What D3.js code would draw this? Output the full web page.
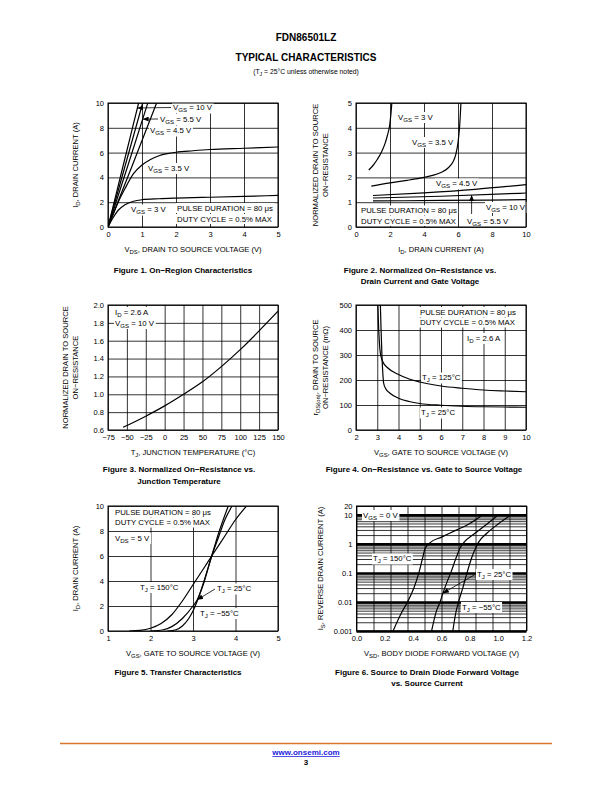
<!DOCTYPE html>
<html><head><meta charset="utf-8">
<script src="https://cdn.jsdelivr.net/npm/d3@7"></script>
<style>body{margin:0;background:#fff}</style>
</head><body><script>
// ================= DATA =================
// Figure 1: On-Region Characteristics  (x: VDS [V], y: ID [A])
const fig1XTicks=[0,1,2,3,4,5];
const fig1YTicks=[0,2,4,6,8,10];
const fig1Vgs10=[[0,0],[0.45,5],[0.9,10]];
const fig1Vgs6=[[0,0],[0.51,5],[1.02,10]];
const fig1Vgs5_5=[[0,0],[0.59,5],[1.17,10]];
const fig1Vgs4_5=[[0,0],[0.72,5],[1.43,10]];
const fig1Vgs3_5=[[0,0],[0.15,1.0],[0.3,2.0],[0.5,3.1],[0.75,4.3],[1,5.0],[1.25,5.45],[1.5,5.75],[1.75,5.92],[2,6.03],[2.5,6.15],[3,6.25],[4,6.35],[5,6.45]];
const fig1Vgs3=[[0,0],[0.15,0.75],[0.3,1.35],[0.5,1.8],[0.75,2.08],[1,2.2],[1.5,2.28],[2,2.33],[3,2.4],[4,2.47],[5,2.55]];

// Figure 2: Normalized On-Resistance vs Drain Current (x: ID [A], y: normalized RDS(on))
const fig2XTicks=[0,2,4,6,8,10];
const fig2YTicks=[0,1,2,3,4,5];
const fig2Vgs3=[[0.75,2.3],[1.0,2.48],[1.25,2.72],[1.5,3.02],[1.7,3.35],[1.85,3.7],[1.98,4.1],[2.06,4.6],[2.12,5.1]];
const fig2Vgs3_5=[[0.9,1.65],[2,1.78],[3,1.88],[4,2.0],[4.5,2.08],[5,2.2],[5.4,2.37],[5.7,2.62],[5.88,2.95],[6.0,3.4],[6.1,4.1],[6.18,5.1]];
const fig2Vgs4_5=[[1,1.27],[4,1.38],[7,1.52],[10,1.71]];
const fig2Vgs5_5=[[1,1.17],[5,1.24],[10,1.37]];
const fig2Vgs10=[[1,1.05],[5,1.07],[10,1.1]];

// Figure 3: Normalized On-Resistance vs Junction Temperature (x: TJ [°C])
const fig3XTicks=[-75,-50,-25,0,25,50,75,100,125,150];
const fig3YTicks=[0.6,0.8,1.0,1.2,1.4,1.6,1.8,2.0];
const fig3Curve=[[-55,0.63],[-25,0.755],[0,0.87],[25,1.0],[50,1.14],[75,1.31],[100,1.5],[125,1.71],[150,1.93]];

// Figure 4: On-Resistance vs Gate to Source Voltage (x: VGS [V], y: rDS(on) [mΩ])
const fig4XTicks=[2,3,4,5,6,7,8,9,10];
const fig4YTicks=[0,100,200,300,400,500];
const fig4Tj125=[[3.02,520],[3.06,420],[3.1,350],[3.15,305],[3.25,275],[3.5,248],[4,222],[4.5,204],[5,192],[6,176],[7,167],[8,160],[9,156],[10,153]];
const fig4Tj25=[[3.14,520],[3.18,400],[3.22,300],[3.26,230],[3.3,188],[3.4,165],[3.6,147],[4,127],[4.5,114],[5,106],[6,99],[7,95],[8,93],[9,92],[10,91]];

// Figure 5: Transfer Characteristics (x: VGS [V], y: ID [A])
const fig5XTicks=[1,2,3,4,5];
const fig5YTicks=[0,2,4,6,8,10];
const fig5Tj150=[[1.5,0],[1.75,0.05],[2,0.22],[2.25,0.6],[2.5,1.3],[2.75,2.4],[3,3.7],[3.25,5.0],[3.44,6.0],[3.75,7.6],[4,8.9],[4.26,10]];
const fig5Tj25=[[2.0,0],[2.3,0.1],[2.5,0.35],[2.75,1.0],[3.0,2.0],[3.1,2.5],[3.25,3.8],[3.44,6.0],[3.6,7.5],[3.75,8.9],[3.92,10]];
const fig5TjM55=[[2.4,0],[2.6,0.1],[2.75,0.4],[2.9,1.0],[3.0,1.6],[3.1,2.4],[3.25,3.9],[3.44,6.0],[3.6,7.8],[3.83,10]];

// Figure 6: Source to Drain Diode Forward Voltage (x: VSD [V], y: IS [A], log)
const fig6XTicks=[0,0.2,0.4,0.6,0.8,1.0,1.2];
const fig6YTicks=[0.001,0.01,0.1,1,10,20];
const fig6Decades=[0.001,0.01,0.1,1,10];
const fig6Tj150=[[0.258,0.001],[0.315,0.004],[0.36,0.01],[0.405,0.03],[0.44,0.1],[0.465,0.3],[0.485,0.7],[0.52,1.1],[0.6,1.7],[0.7,2.9],[0.8,5.0],[0.88,9.0]];
const fig6Tj25=[[0.53,0.001],[0.565,0.005],[0.59,0.01],[0.61,0.02],[0.64,0.05],[0.665,0.1],[0.7,0.3],[0.73,0.7],[0.76,1.15],[0.82,2.0],[0.9,4.0],[0.99,9.0]];
const fig6TjM55=[[0.68,0.001],[0.7,0.004],[0.72,0.01],[0.75,0.03],[0.78,0.1],[0.81,0.3],[0.84,0.7],[0.86,1.1],[0.92,2.3],[1.0,4.8],[1.08,9.0]];

// ================= RENDER =================
const FONT='"Liberation Sans", Arial, Helvetica, sans-serif';
const LBL=7.8, TICK=7.5, TITLE=7.6;
const svg=d3.select("body").append("svg").attr("width",612).attr("height",792)
  .attr("font-family",FONT);
const defs=svg.append("defs");
defs.append("marker").attr("id","arr").attr("markerUnits","userSpaceOnUse")
  .attr("markerWidth",6).attr("markerHeight",5).attr("refX",6).attr("refY",2.5).attr("orient","auto")
  .append("path").attr("d","M0,0L6,2.5L0,5z").attr("fill","#000");

function rich(sel,str,subSize){
  const parts=str.split(/(_\{[^}]*\})/).filter(s=>s.length);
  let shifted=false;
  parts.forEach(p=>{
    if(p.startsWith("_{")){
      sel.append("tspan").attr("font-size",subSize).attr("dy",2).text(p.slice(2,-1));
      shifted=true;
    }else{
      const t=sel.append("tspan").text(p);
      if(shifted){t.attr("dy",-2);shifted=false;}
    }
  });
  return sel;
}
function txt(parent,str,x,y,o={}){
  const size=o.size||LBL;
  const t=parent.append("text").attr("x",x).attr("y",y).attr("font-size",size)
    .attr("text-anchor",o.anchor||"start").attr("font-weight",o.weight||"normal")
    .attr("fill",o.fill||"#000");
  if(o.rotate) t.attr("transform",`rotate(${o.rotate},${x},${y})`);
  rich(t,str,size*0.78);
  return t;
}
function xAt(series,yv){
  for(let i=0;i<series.length-1;i++){
    const [x0,y0]=series[i],[x1,y1]=series[i+1];
    if((yv-y0)*(yv-y1)<=0 && y1!==y0) return x0+(yv-y0)/(y1-y0)*(x1-x0);
  }
  return series[series.length-1][0];
}
function yAt(series,xv){
  for(let i=0;i<series.length-1;i++){
    const [x0,y0]=series[i],[x1,y1]=series[i+1];
    if((xv-x0)*(xv-x1)<=0 && x1!==x0) return y0+(xv-x0)/(x1-x0)*(y1-y0);
  }
  return series[series.length-1][1];
}

let clipN=0;
function chart(c){
  const x=c.x,y=c.y;
  const [xl,xr]=x.range(),[yb,yt]=y.range();
  const g=svg.append("g");
  const gGrid=g.append("g"),gBg=g.append("g"),gCurve=g.append("g"),gText=g.append("g"),gFrame=g.append("g");
  const id="clip"+(clipN++);
  defs.append("clipPath").attr("id",id).append("rect")
    .attr("x",xl).attr("y",yt).attr("width",xr-xl).attr("height",yb-yt);
  const gx=gGrid.append("g").attr("transform",`translate(0,${yb})`)
    .call(d3.axisBottom(x).tickValues(c.xGrid).tickSize(-(yb-yt)).tickFormat(""));
  gx.select(".domain").remove();
  gx.selectAll("line").attr("stroke","#000").attr("stroke-width",0.8);
  const gy=gGrid.append("g").attr("transform",`translate(${xl},0)`)
    .call(d3.axisLeft(y).tickValues(c.yGrid).tickSize(-(xr-xl)).tickFormat(""));
  gy.select(".domain").remove();
  gy.selectAll("line").attr("stroke","#000").attr("stroke-width",d=>c.yGridW?c.yGridW(d):0.8);
  const lx=g.append("g").attr("transform",`translate(0,${yb})`)
    .call(d3.axisBottom(x).tickValues(c.xTicks).tickSize(0).tickPadding(5).tickFormat(c.xFmt));
  lx.select(".domain").remove();
  lx.attr("font-size",TICK).attr("font-family",FONT);
  const ly=g.append("g").attr("transform",`translate(${xl},0)`)
    .call(d3.axisLeft(y).tickValues(c.yTicks).tickSize(0).tickPadding(4).tickFormat(c.yFmt));
  ly.select(".domain").remove();
  ly.attr("font-size",TICK).attr("font-family",FONT);
  const cx=(xl+xr)/2, cy=(yb+yt)/2;
  txt(g,c.xTitle,cx,yb+25,{anchor:"middle",size:TITLE});
  c.yTitle.forEach((s,i)=>txt(g,s,c.yTitleX[i]+2.7,cy,{anchor:"middle",rotate:-90,size:TITLE}));
  const line=d3.line().x(d=>x(d[0])).y(d=>y(d[1])).curve(d3.curveMonotoneX);
  gCurve.attr("clip-path",`url(#${id})`).selectAll("path").data(c.series).join("path")
    .attr("d",line).attr("fill","none").attr("stroke","#000").attr("stroke-width",1.2);
  (c.labels||[]).forEach(L=>{
    const t=txt(gText,L.t,L.x,L.y,{anchor:L.anchor});
    const b=t.node().getBBox();
    gBg.append("rect").attr("x",b.x-1).attr("y",b.y-0.5).attr("width",b.width+2).attr("height",b.height+1).attr("fill","#fff");
  });
  (c.arrows||[]).forEach(A=>{
    gText.append("line").attr("x1",A.from[0]).attr("y1",A.from[1]).attr("x2",A.to[0]).attr("y2",A.to[1])
      .attr("stroke","#000").attr("stroke-width",0.8).attr("marker-end","url(#arr)");
  });
  gFrame.append("rect").attr("x",xl).attr("y",yt).attr("width",xr-xl).attr("height",yb-yt)
    .attr("fill","none").attr("stroke","#000").attr("stroke-width",1);
}

// ---- Header ----
txt(svg,"FDN86501LZ",306,41,{anchor:"middle",weight:"bold",size:10});
txt(svg,"TYPICAL CHARACTERISTICS",306,61,{anchor:"middle",weight:"bold",size:10});
txt(svg,"(T_{J} = 25°C unless otherwise noted)",306,73.5,{anchor:"middle",size:6.8});

// ---- Figure 1 ----
{
  const x=d3.scaleLinear([0,5],[108,278]), y=d3.scaleLinear([0,10],[227,103]);
  chart({x,y,xGrid:fig1XTicks,yGrid:fig1YTicks,xTicks:fig1XTicks,yTicks:fig1YTicks,
    xFmt:d3.format("d"),yFmt:d3.format("d"),
    xTitle:"V_{DS}, DRAIN TO SOURCE VOLTAGE (V)",yTitle:["I_{D}, DRAIN CURRENT (A)"],yTitleX:[75],
    series:[fig1Vgs10,fig1Vgs6,fig1Vgs5_5,fig1Vgs4_5,fig1Vgs3_5,fig1Vgs3],
    labels:[
      {t:"V_{GS} = 10 V",x:173,y:110},
      {t:"V_{GS} = 5.5 V",x:160,y:121.5},
      {t:"V_{GS} = 4.5 V",x:150,y:133},
      {t:"V_{GS} = 3.5 V",x:148,y:170.5},
      {t:"V_{GS} = 3 V",x:131,y:212},
      {t:"PULSE DURATION = 80 μs",x:177,y:210.5},
      {t:"DUTY CYCLE = 0.5% MAX",x:177,y:221.5}
    ],
    arrows:[
      {from:[171,107.5],to:[x(xAt(fig1Vgs10,9.6)),y(9.6)]},
      {from:[158,119],to:[x(xAt(fig1Vgs5_5,8.7)),y(8.7)]}
    ]});
}
// ---- Figure 2 ----
{
  const x=d3.scaleLinear([0,10],[356,526]), y=d3.scaleLinear([0,5],[227,103]);
  chart({x,y,xGrid:fig2XTicks,yGrid:fig2YTicks,xTicks:fig2XTicks,yTicks:fig2YTicks,
    xFmt:d3.format("d"),yFmt:d3.format("d"),
    xTitle:"I_{D}, DRAIN CURRENT (A)",yTitle:["NORMALIZED DRAIN TO SOURCE","ON−RESISTANCE"],yTitleX:[315,325],
    series:[fig2Vgs3,fig2Vgs3_5,fig2Vgs4_5,fig2Vgs5_5,fig2Vgs10],
    labels:[
      {t:"V_{GS} = 3 V",x:398,y:119.5},
      {t:"V_{GS} = 3.5 V",x:412,y:144.5},
      {t:"V_{GS} = 4.5 V",x:436,y:186},
      {t:"PULSE DURATION = 80 μs",x:361,y:213},
      {t:"DUTY CYCLE = 0.5% MAX",x:361,y:223.5},
      {t:"V_{GS} = 10 V",x:525,y:209.5,anchor:"end"},
      {t:"V_{GS} = 5.5 V",x:467,y:223.5}
    ],
    arrows:[{from:[x(6.8),214],to:[x(6.8),y(yAt(fig2Vgs5_5,6.8))]}]});
}
// ---- Figure 3 ----
{
  const x=d3.scaleLinear([-75,150],[108,278]), y=d3.scaleLinear([0.6,2.0],[430,305]);
  const minus=d=>d3.format("d")(d).replace("-","−");
  chart({x,y,xGrid:fig3XTicks,yGrid:fig3YTicks,xTicks:fig3XTicks,yTicks:fig3YTicks,
    xFmt:minus,yFmt:d3.format(".1f"),
    xTitle:"T_{J}, JUNCTION TEMPERATURE (°C)",yTitle:["NORMALIZED DRAIN TO SOURCE","ON−RESISTANCE"],yTitleX:[65,75],
    series:[fig3Curve],
    labels:[
      {t:"I_{D} = 2.6 A",x:115,y:314.5},
      {t:"V_{GS} = 10 V",x:115,y:325.5}
    ]});
}
// ---- Figure 4 ----
{
  const x=d3.scaleLinear([2,10],[356,526]), y=d3.scaleLinear([0,500],[430,305]);
  chart({x,y,xGrid:fig4XTicks,yGrid:fig4YTicks,xTicks:fig4XTicks,yTicks:fig4YTicks,
    xFmt:d3.format("d"),yFmt:d3.format("d"),
    xTitle:"V_{GS}, GATE TO SOURCE VOLTAGE (V)",yTitle:["r_{DS(on)}, DRAIN TO SOURCE","ON−RESISTANCE (mΩ)"],yTitleX:[315,325],
    series:[fig4Tj125,fig4Tj25],
    labels:[
      {t:"PULSE DURATION = 80 μs",x:420,y:314.5},
      {t:"DUTY CYCLE = 0.5% MAX",x:420,y:325},
      {t:"I_{D} = 2.6 A",x:467,y:340.5},
      {t:"T_{J} = 125°C",x:422,y:380},
      {t:"T_{J} = 25°C",x:421,y:415}
    ]});
}
// ---- Figure 5 ----
{
  const x=d3.scaleLinear([1,5],[108,278]), y=d3.scaleLinear([0,10],[631,506]);
  chart({x,y,xGrid:fig5XTicks,yGrid:fig5YTicks,xTicks:fig5XTicks,yTicks:fig5YTicks,
    xFmt:d3.format("d"),yFmt:d3.format("d"),
    xTitle:"V_{GS}, GATE TO SOURCE VOLTAGE (V)",yTitle:["I_{D}, DRAIN CURRENT (A)"],yTitleX:[75],
    series:[fig5Tj150,fig5Tj25,fig5TjM55],
    labels:[
      {t:"PULSE DURATION = 80 μs",x:115,y:514.5},
      {t:"DUTY CYCLE = 0.5% MAX",x:115,y:525},
      {t:"V_{DS} = 5 V",x:115,y:540.5},
      {t:"T_{J} = 150°C",x:140,y:589.5},
      {t:"T_{J} = 25°C",x:217,y:591},
      {t:"T_{J} = −55°C",x:200,y:615.5}
    ],
    arrows:[{from:[215,589],to:[x(xAt(fig5Tj25,2.5)),y(2.5)]}]});
}
// ---- Figure 6 ----
{
  const x=d3.scaleLinear([0,1.2],[356.5,526.5]), y=d3.scaleLog([0.001,20],[631,506]);
  const hGrid=[];
  fig6Decades.forEach(dv=>{for(let m=1;m<=9;m++){const v=dv*m; if(v<=20.0001) hGrid.push(v);} });
  hGrid.push(20);
  const vGrid=d3.range(0,11).map(i=>i*0.12);
  const isDec=v=>fig6Decades.some(dv=>Math.abs(v/dv-1)<1e-6);
  chart({x,y,xGrid:vGrid,yGrid:hGrid,yGridW:d=>isDec(d)?2.4:0.8,xTicks:fig6XTicks,yTicks:fig6YTicks,
    xFmt:d3.format(".1f"),yFmt:d=>String(+d.toPrecision(3)),
    xTitle:"V_{SD}, BODY DIODE FORWARD VOLTAGE (V)",yTitle:["I_{S}, REVERSE DRAIN CURRENT (A)"],yTitleX:[320],
    series:[fig6Tj150,fig6Tj25,fig6TjM55],
    labels:[
      {t:"V_{GS} = 0 V",x:363,y:517.5},
      {t:"T_{J} = 150°C",x:373,y:561},
      {t:"T_{J} = 25°C",x:477,y:576.5},
      {t:"T_{J} = −55°C",x:462,y:609.5}
    ],
    arrows:[{from:[475,574.5],to:[x(xAt(fig6Tj25,0.02)),y(0.02)]}]});
}

// ---- Captions ----
const cap=(s,x,y)=>txt(svg,s,x,y,{anchor:"middle",weight:"bold",size:8});
cap("Figure 1. On−Region Characteristics",183,272.5);
cap("Figure 2. Normalized On−Resistance vs.",420,272.5);
cap("Drain Current and Gate Voltage",420,284);
cap("Figure 3. Normalized On−Resistance vs.",179,472);
cap("Junction Temperature",179,483.5);
cap("Figure 4. On−Resistance vs. Gate to Source Voltage",424,472);
cap("Figure 5. Transfer Characteristics",178,674.5);
cap("Figure 6. Source to Drain Diode Forward Voltage",427,674.5);
cap("vs. Source Current",427,686);

// ---- Footer ----
svg.append("line").attr("x1",60).attr("x2",552).attr("y1",743.5).attr("y2",743.5)
  .attr("stroke","#d9782d").attr("stroke-width",1.5);
txt(svg,"www.onsemi.com",306,755,{anchor:"middle",weight:"bold",size:8,fill:"#2323e0"})
  .attr("text-decoration","underline");
txt(svg,"3",306,765,{anchor:"middle",weight:"bold",size:8});
</script></body></html>
